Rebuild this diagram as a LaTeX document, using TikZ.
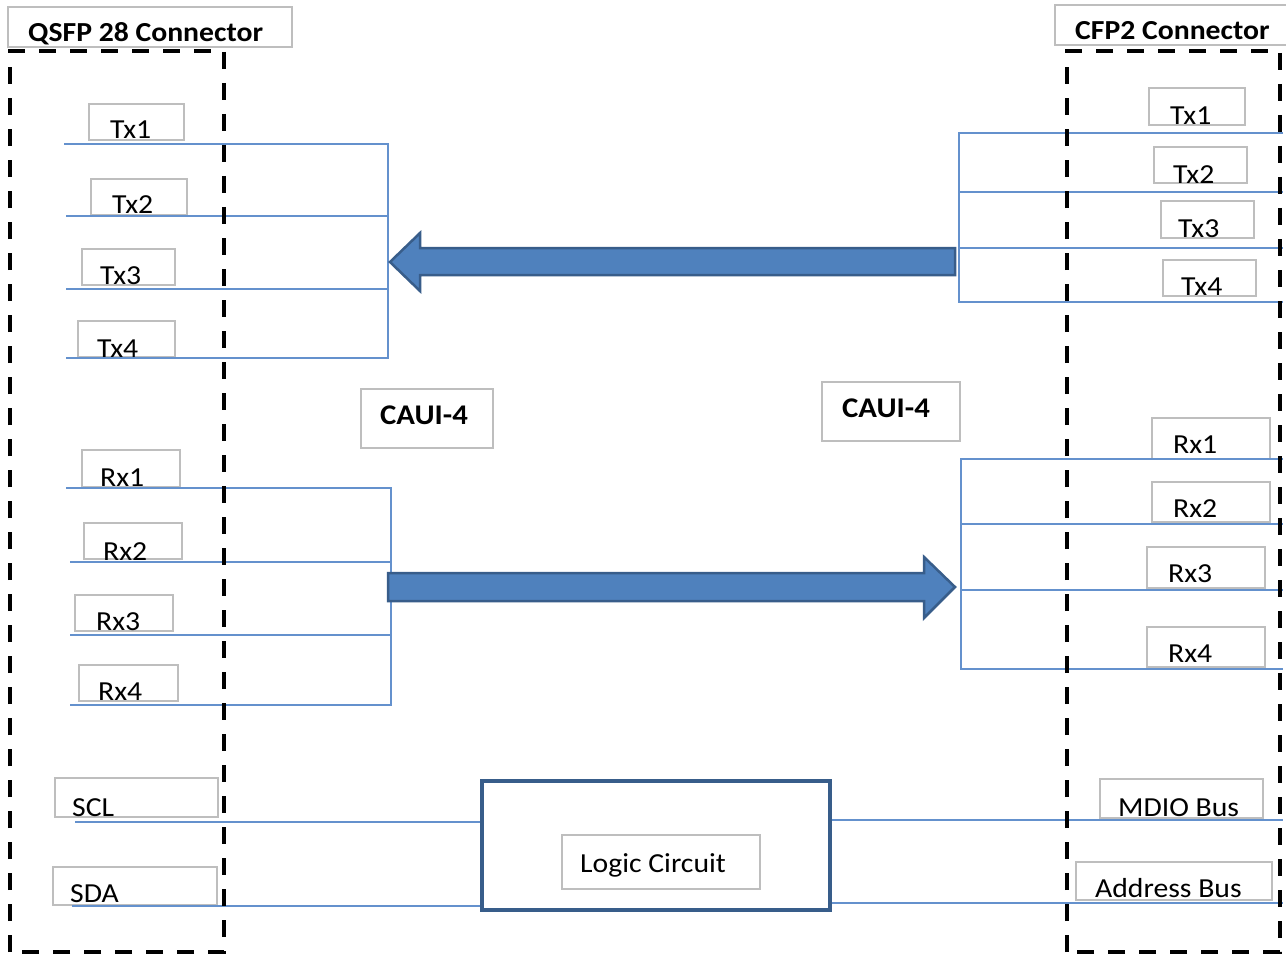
\documentclass[tikz,border=0pt]{standalone}
\usepackage{fontspec}
\setmainfont[FakeStretch=1.08]{Carlito}
\definecolor{boxgray}{RGB}{190,190,190}
\definecolor{wireblue}{RGB}{100,145,205}
\definecolor{arrowfill}{RGB}{79,129,189}
\definecolor{arrowline}{RGB}{56,93,138}
\definecolor{logicblue}{RGB}{56,93,138}
\newcommand{\sigbox}[8]{%
  \node[lbox, minimum width={#4-#2}, minimum height={#5-#3}] (#1) at ({(#2+#4)/2},{(#3+#5)/2}) {};
  \node[lbl, anchor=base west] (#1t) at (#6,#7) {#8};}
\begin{document}
\begin{tikzpicture}[x=1pt,y=-1pt,
  lbox/.style={draw=boxgray, line width=1.5pt, inner sep=0pt},
  lbl/.style={font=\fontsize{27.5}{30}\selectfont, inner sep=0pt},
  hdr/.style={font=\bfseries\fontsize{27.5}{30}\selectfont, inner sep=0pt},
  wire/.style={draw=wireblue, line width=1.8pt},
  frame/.style={draw=black, line width=3.5pt, dash pattern=on 17pt off 14pt},
  bigarrow/.style={fill=arrowfill, draw=arrowline, line width=2.5pt, line join=miter}]
\useasboundingbox (0,0) rectangle (1286,955);
\fill[white] (0,0) rectangle (1286,955);

% ---- left label boxes
\sigbox{ltxa}{89}{104}{184}{140}{110}{139}{Tx1}
\sigbox{ltxb}{91}{179}{187}{215}{112}{213}{Tx2}
\sigbox{ltxc}{82}{249}{175}{285}{100}{284}{Tx3}
\sigbox{ltxd}{78}{321}{175}{357}{97}{357}{Tx4}
\sigbox{lrxa}{82}{450}{180}{487}{100}{486}{Rx1}
\sigbox{lrxb}{84}{523}{182}{559}{103}{560}{Rx2}
\sigbox{lrxc}{75}{595}{173}{631}{96}{630}{Rx3}
\sigbox{lrxd}{79}{665}{178}{701}{98}{700}{Rx4}
\sigbox{scl}{55}{778}{218}{817}{72}{816}{SCL}
\sigbox{sda}{53}{867}{217}{905}{70}{902}{SDA}

% ---- right label boxes
\sigbox{rtxa}{1149}{88}{1245}{125}{1170}{125}{Tx1}
\sigbox{rtxb}{1154}{147}{1247}{183}{1173}{184}{Tx2}
\sigbox{rtxc}{1161}{201}{1254}{238}{1178}{237}{Tx3}
\sigbox{rtxd}{1163}{260}{1256}{296}{1181}{295}{Tx4}
\sigbox{rrxa}{1152}{418}{1270}{459}{1173}{453}{Rx1}
\sigbox{rrxb}{1152}{482}{1270}{522}{1173}{517}{Rx2}
\sigbox{rrxc}{1147}{547}{1265}{588}{1168}{582}{Rx3}
\sigbox{rrxd}{1147}{627}{1265}{667}{1168}{662}{Rx4}
\sigbox{mdio}{1100}{779}{1263}{818}{1118}{816}{MDIO Bus}
\sigbox{addr}{1076}{862}{1272}{900}{1095}{897}{Address Bus}

% ---- CAUI-4 labels
\node[lbox, minimum width=132, minimum height=59] (cauil) at (427,418.5) {};
\node[hdr, font=\bfseries\fontsize{28.5}{30}\selectfont, anchor=base west] (cauilt) at (380,424) {CAUI-4};
\node[lbox, minimum width=138, minimum height=59] (cauir) at (891,411.5) {};
\node[hdr, font=\bfseries\fontsize{28.5}{30}\selectfont, anchor=base west] (cauirt) at (842,417) {CAUI-4};

% ---- logic circuit
\node[draw=logicblue, line width=3.5pt, minimum width=348, minimum height=129, inner sep=0pt] (logic) at (656,845.5) {};
\sigbox{logicin}{562}{835}{760}{889}{580}{872}{Logic Circuit}

% ---- left wires
\draw[wire] (64,144) -- (388,144) -- (388,358) -- (66,358);
\draw[wire] (66,216) -- (388,216);
\draw[wire] (66,289) -- (388,289);
\draw[wire] (66,488) -- (391,488) -- (391,705) -- (70,705);
\draw[wire] (70,562) -- (391,562);
\draw[wire] (70,635) -- (391,635);
\draw[wire] (75,822) -- (logic.west |- 0,822);
\draw[wire] (72,906) -- (logic.west |- 0,906);

% ---- right wires
\draw[wire] (1283,133) -- (959,133) -- (959,302) -- (1283,302);
\draw[wire] (959,192) -- (1283,192);
\draw[wire] (959,248) -- (1283,248);
\draw[wire] (1283,459) -- (961,459) -- (961,669) -- (1283,669);
\draw[wire] (961,524) -- (1283,524);
\draw[wire] (961,590) -- (1283,590);
\draw[wire] (logic.east |- 0,820) -- (1283,820);
\draw[wire] (logic.east |- 0,903) -- (1283,903);

% ---- big arrows
\draw[bigarrow] (390,262) -- (420,233) -- (420,248) -- (955,248) -- (955,275) -- (420,275) -- (420,291) -- cycle;
\draw[bigarrow] (388,573) -- (924,573) -- (924,557) -- (955,587) -- (924,618) -- (924,601) -- (388,601) -- cycle;

% ---- dashed connector frames
\draw[frame] (10,952) -- (10,51) -- (224,51) -- (224,952) -- cycle;
\draw[frame] (1067,952) -- (1067,51) -- (1280,51) -- (1280,952) -- cycle;

% ---- connector headers
\node[lbox, fill=white, minimum width=284, minimum height=40] (qsfp) at (150,27) {};
\node[hdr, anchor=base west] (qsfpt) at (28,42) {QSFP 28 Connector};
\node[lbox, fill=white, minimum width=237, minimum height=40] (cfp) at (1173.5,25) {};
\node[hdr, anchor=base west] (cfpt) at (1075,40) {CFP2 Connector};
\end{tikzpicture}
\end{document}
